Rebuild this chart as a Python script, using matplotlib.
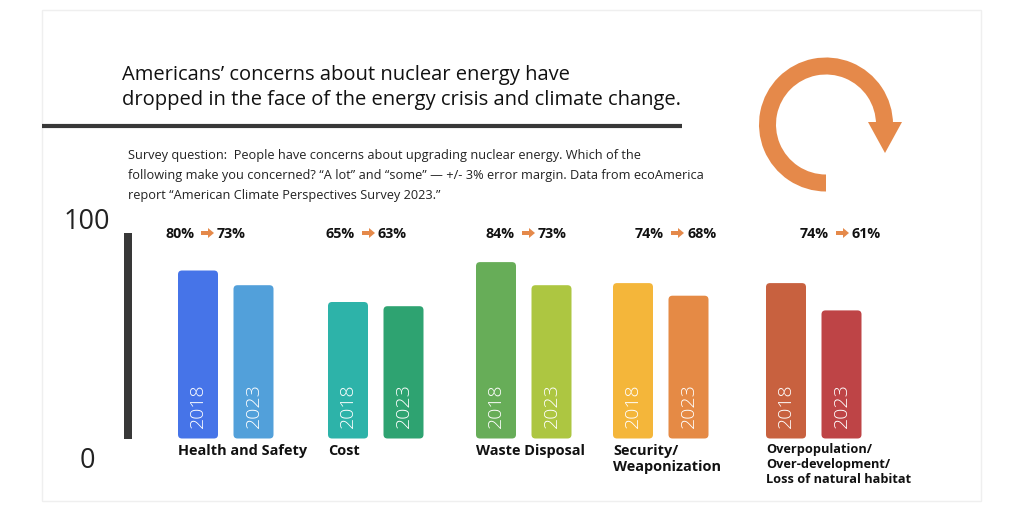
import matplotlib
matplotlib.use("Agg")
import matplotlib.pyplot as plt
from matplotlib.patches import FancyBboxPatch, Wedge, Polygon, Rectangle, FancyArrow

# ---------------- data ----------------
categories = ["Health and Safety", "Cost", "Waste Disposal",
              "Security/\nWeaponization",
              "Overpopulation/\nOver-development/\nLoss of natural habitat"]
years = ["2018", "2023"]
values_2018 = [80, 65, 84, 74, 74]
values_2023 = [73, 63, 73, 68, 61]
colors_2018 = ["#4674E8", "#2DB3A9", "#67AD58", "#F4B63A", "#C8613F"]
colors_2023 = ["#52A0DA", "#2EA371", "#ADC641", "#E58A45", "#BE4446"]
y_ticks = [0, 100]

title_lines = ["Americans\u2019 concerns about nuclear energy have",
               "dropped in the face of the energy crisis and climate change."]
subtitle_lines = [
    "Survey question:  People have concerns about upgrading nuclear energy. Which of the",
    "following make you concerned? \u201cA lot\u201d and \u201csome\u201d \u2014 +/- 3% error margin. Data from ecoAmerica",
    "report \u201cAmerican Climate Perspectives Survey 2023.\u201d",
]

# ---------------- layout (pixels) ----------------
W, H = 1024, 512
bar_left_2018 = [178, 328, 476, 613, 766]
pair_offset = 55.5
bar_w = 40
pct_left = [165, 326, 486, 635, 800]
orange = "#E5894A"
dark = "#383838"

plt.rcParams["font.family"] = ["Open Sans", "DejaVu Sans"]

def pt(px):
    return px * 0.72

fig = plt.figure(figsize=(W / 100, H / 100), dpi=100)
fig.patch.set_facecolor("white")

# overlay axes in pixel coordinates (y downward)
ov = fig.add_axes([0, 0, 1, 1])
ov.set_xlim(0, W)
ov.set_ylim(H, 0)
ov.axis("off")

ov.add_patch(Rectangle((42, 10), 939, 491, fill=False, ec="#EFEFEF", lw=1))

# title
ov.text(122, 80, title_lines[0], fontsize=pt(20.2), color="#111111", va="baseline")
ov.text(122, 105, title_lines[1], fontsize=pt(20.2), color="#111111", va="baseline")
ov.plot([42, 682], [126, 126], color=dark, lw=3, solid_capstyle="butt")

for i, line in enumerate(subtitle_lines):
    ov.text(128, 156 + i * 19.5, line, fontsize=pt(12.8), color="#222222", va="center")

# circular arrow
cx, cy = 826, 124.5
ov.add_patch(Wedge((cx, cy), 67, 90, 360, width=17, fc=orange, ec="none"))
ov.add_patch(Polygon([[868, 122], [902, 122], [885, 153]], closed=True, fc=orange, ec="none"))

# y axis bar & labels
ov.add_patch(Rectangle((124, 233), 8, 206, fc=dark, ec="none"))
ov.text(87, 222, str(y_ticks[1]), fontsize=pt(27), color="#222222",
        ha="center", va="center")
ov.text(87, 461, str(y_ticks[0]), fontsize=pt(27), color="#222222",
        ha="center", va="center")

# percentage change labels
for L, a, b in zip(pct_left, values_2018, values_2023):
    ov.text(L, 238, f"{a}%", fontsize=pt(14.3), fontweight="bold", color="#111111",
            va="baseline", ha="left")
    ov.add_patch(FancyArrow(L + 36, 233, 7, 0, width=4, head_width=10, head_length=6,
                            length_includes_head=False, fc=orange, ec="none"))
    ov.text(L + 52, 238, f"{b}%", fontsize=pt(14.3), fontweight="bold", color="#111111",
            va="baseline", ha="left")

# category labels
for i, (L, cat) in enumerate(zip(bar_left_2018, categories)):
    if i == 4:
        ov.text(L, 443, cat, fontsize=pt(12.8), fontweight="bold", color="#111111",
                va="top", ha="left", linespacing=1.2)
    else:
        ov.text(L, 444, cat, fontsize=pt(14.5), fontweight="bold", color="#111111",
                va="top", ha="left", linespacing=1.22)

# bars axes: data scale 0..100
ax = fig.add_axes([0, (H - 438.5) / H, 1, 210 / H])
ax.set_xlim(0, W)
ax.set_ylim(y_ticks[0], y_ticks[1])
ax.axis("off")
ax.patch.set_alpha(0)
px_per_unit = 210 / 100

for L, v18, v23, c18, c23 in zip(bar_left_2018, values_2018, values_2023, colors_2018, colors_2023):
    for x, v, c, yr in [(L, v18, c18, years[0]), (L + pair_offset, v23, c23, years[1])]:
        ax.add_patch(FancyBboxPatch((x, 0), bar_w, v,
                                    boxstyle="round,pad=0,rounding_size=4",
                                    mutation_aspect=1 / px_per_unit,
                                    fc=c, ec="none"))
        ax.text(x + bar_w / 2, 10 / px_per_unit, yr, rotation=90, color="white",
                fontsize=pt(19.5), ha="center", va="bottom", fontweight="light")

fig.savefig("out.png", dpi=100, facecolor="white")
